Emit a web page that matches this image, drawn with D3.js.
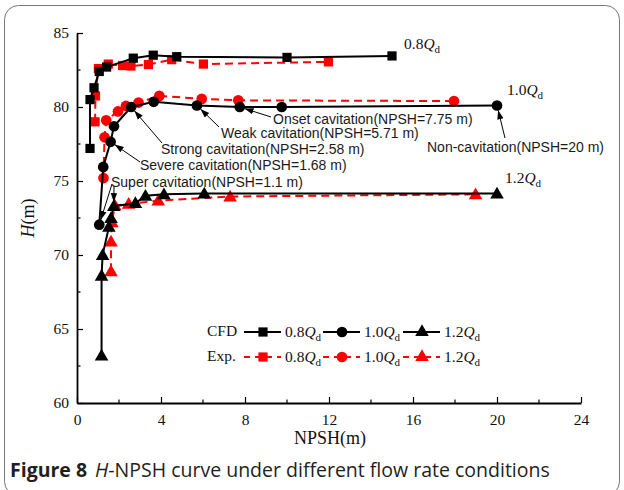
<!DOCTYPE html>
<html lang="en">
<head>
<meta charset="UTF-8">
<title>H-NPSH curve</title>
<script src="https://d3js.org/d3.v7.min.js"></script>
<style>
  body { margin: 0; background: #fff; }
  svg { display: block; }
  .serif { font-family: 'Liberation Serif', 'Times New Roman', serif; }
  .sans { font-family: 'Liberation Sans', Arial, sans-serif; }
</style>
</head>
<body>
<div id="chart"></div>
<script>
// NPSH (m) / head H (m)
const cfd08 = [[0.62,77.2],[0.62,80.5],[0.81,81.3],[1.06,82.4],[1.41,82.7],[2.68,83.3],[3.63,83.5],[4.75,83.4],[10,83.35],[15,83.45]];
const exp08 = [[0.86,79.0],[0.88,80.75],[1.02,82.6],[1.49,82.9],[2.17,82.8],[2.57,82.77],[3.4,82.87],[4.51,83.2],[6.02,82.9],[11.97,83.05]];
const cfd10 = [[1.06,72.05],[1.25,75.95],[1.6,77.65],[1.76,78.7],[2.58,80.0],[3.65,80.35],[5.71,80.1],[7.75,80.0],[9.75,80.0],[20,80.1]];
const exp10 = [[1.26,75.2],[1.31,77.95],[1.39,79.1],[1.95,79.7],[2.33,80.07],[2.93,80.3],[3.92,80.75],[5.94,80.55],[7.68,80.45],[17.95,80.4]];
const cfd12 = [[1.17,63.2],[1.17,68.6],[1.22,70.0],[1.52,71.9],[1.62,72.5],[1.75,73.3],[2.78,73.5],[3.26,74.0],[4.14,74.1],[6.06,74.15],[20,74.15]];
const exp12 = [[1.62,68.9],[1.62,70.9],[1.66,72.2],[1.8,73.35],[2.46,73.45],[3.87,73.67],[7.29,73.95],[18.98,74.1]];

const xTicks = [0, 4, 8, 12, 16, 20, 24];
const yTicks = [60, 65, 70, 75, 80, 85];
const flowLabels = ["0.8", "1.0", "1.2"];

// cavitation stage annotations: text, NPSH and H of the marked point
const notes = [
  { text: "Onset cavitation(NPSH=7.75 m)", x: 7.75, h: 80.0 },
  { text: "Weak cavitation(NPSH=5.71 m)", x: 5.71, h: 80.1 },
  { text: "Strong cavitation(NPSH=2.58 m)", x: 2.58, h: 80.0 },
  { text: "Severe cavitation(NPSH=1.68 m)", x: 1.6, h: 77.65 },
  { text: "Super cavitation(NPSH=1.1 m)", x: 1.06, h: 72.05 },
  { text: "Non-cavitation(NPSH=20 m)", x: 20, h: 80.1 }
];
// where each annotation text sits (left x, middle y) and where its arrow starts
const noteLayout = [
  { tx: 273, ty: 120, ax: 271, ay: 117 },
  { tx: 221, ty: 134, ax: 219, ay: 127 },
  { tx: 161, ty: 150, ax: 162, ay: 143 },
  { tx: 140, ty: 166, ax: 140, ay: 162 },
  { tx: 111, ty: 183, ax: 112, ay: 184 },
  { tx: 427, ty: 148, ax: 505, ay: 138 }
];

const W = 624, H = 490;
const svg = d3.select("#chart").append("svg").attr("width", W).attr("height", H);

// outer figure frame
svg.append("rect").attr("x", 4.5).attr("y", 5.5).attr("width", 615).attr("height", 490)
  .attr("rx", 14).attr("fill", "none").attr("stroke", "#777").attr("stroke-width", 1);

const x = d3.scaleLinear().domain([0, 24]).range([77, 581]);
const y = d3.scaleLinear().domain([60, 85]).range([403, 33]);

svg.append("defs").append("marker")
  .attr("id", "arrow").attr("viewBox", "0 0 10 10").attr("refX", 10).attr("refY", 5)
  .attr("markerWidth", 9).attr("markerHeight", 9).attr("markerUnits", "userSpaceOnUse")
  .attr("orient", "auto")
  .append("path").attr("d", "M0,1.5L10,5L0,8.5Z").attr("fill", "#000");

// axes
const gx = svg.append("g").attr("transform", `translate(0,${y(60)})`)
  .call(d3.axisBottom(x).tickValues(xTicks).tickSizeInner(-6).tickSizeOuter(0).tickPadding(11));
const gy = svg.append("g").attr("transform", `translate(${x(0)},0)`)
  .call(d3.axisLeft(y).tickValues(yTicks).tickSizeInner(-6).tickSizeOuter(0).tickPadding(8));
[gx, gy].forEach(g => {
  g.select(".domain").attr("stroke", "#000").attr("stroke-width", 1.8);
  g.selectAll(".tick line").attr("stroke", "#000").attr("stroke-width", 1.2);
  g.selectAll(".tick text").attr("class", "serif").attr("font-size", 15.5).attr("fill", "#111");
});
gx.append("g").selectAll("line").data(d3.range(2, 24, 4)).join("line")
  .attr("x1", d => x(d)).attr("x2", d => x(d)).attr("y1", 0).attr("y2", -3.5)
  .attr("stroke", "#000").attr("stroke-width", 1.2);
gy.append("g").selectAll("line").data(d3.range(62.5, 85, 5)).join("line")
  .attr("y1", d => y(d)).attr("y2", d => y(d)).attr("x1", 0).attr("x2", 3.5)
  .attr("stroke", "#000").attr("stroke-width", 1.2);

svg.append("text").attr("class", "serif").attr("x", 330).attr("y", 444)
  .attr("text-anchor", "middle").attr("font-size", 18).attr("fill", "#111").text("NPSH(m)");
const yl = svg.append("text").attr("class", "serif").attr("font-size", 18).attr("fill", "#111")
  .attr("text-anchor", "middle").attr("transform", `translate(34,218) rotate(-90)`);
yl.append("tspan").attr("font-style", "italic").text("H");
yl.append("tspan").text("(m)");

// series
const symType = [d3.symbolSquare, d3.symbolCircle, d3.symbolTriangle];
const symSize = [85, 90, 80];
const series = [
  { data: cfd08, color: "#000", dash: null, k: 0 },
  { data: cfd10, color: "#000", dash: null, k: 1 },
  { data: cfd12, color: "#000", dash: null, k: 2 },
  { data: exp08, color: "#f00", dash: "8,5", k: 0 },
  { data: exp10, color: "#f00", dash: "8,5", k: 1 },
  { data: exp12, color: "#f00", dash: "8,5", k: 2 }
];
const line = d3.line().x(d => x(d[0])).y(d => y(d[1]));

// draw exp first so cfd lines sit on top where they meet
[3, 4, 5, 0, 1, 2].forEach(i => {
  const s = series[i];
  const g = svg.append("g");
  g.append("path").datum(s.data).attr("d", line).attr("fill", "none")
    .attr("stroke", s.color).attr("stroke-width", 2).attr("stroke-dasharray", s.dash);
  g.selectAll("path.pt").data(s.data).join("path").attr("class", "pt")
    .attr("d", d3.symbol().type(symType[s.k]).size(symSize[s.k]))
    .attr("transform", d => `translate(${x(d[0])},${y(d[1]) + (s.k === 2 ? 1 : 0)})`)
    .attr("fill", s.color);
});

// flow rate labels at the curve ends
const endLabels = [
  { lab: flowLabels[0], x: cfd08[cfd08.length - 1][0], h: cfd08[cfd08.length - 1][1], dx: 12, dy: -7 },
  { lab: flowLabels[1], x: cfd10[cfd10.length - 1][0], h: cfd10[cfd10.length - 1][1], dx: 10, dy: -11 },
  { lab: flowLabels[2], x: cfd12[cfd12.length - 1][0], h: cfd12[cfd12.length - 1][1], dx: 8, dy: -11 }
];
function qLabel(sel, lab) {
  sel.append("tspan").text(lab);
  sel.append("tspan").attr("font-style", "italic").text("Q");
  sel.append("tspan").attr("font-size", 11).attr("dy", 4).text("d");
}
endLabels.forEach(e => {
  const t = svg.append("text").attr("class", "serif").attr("font-size", 15.5).attr("fill", "#111")
    .attr("x", x(e.x) + e.dx).attr("y", y(e.h) + e.dy);
  qLabel(t, e.lab);
});

// annotations
notes.forEach((n, i) => {
  const L = noteLayout[i];
  svg.append("text").attr("class", "sans").attr("font-size", 14).attr("fill", "#1a1a1a")
    .attr("x", L.tx).attr("y", L.ty).attr("dominant-baseline", "middle").text(n.text);
  const px = x(n.x), py = y(n.h);
  const ang = Math.atan2(py - L.ay, px - L.ax);
  svg.append("line").attr("x1", L.ax).attr("y1", L.ay)
    .attr("x2", px - 5 * Math.cos(ang)).attr("y2", py - 5 * Math.sin(ang))
    .attr("stroke", "#000").attr("stroke-width", 1).attr("marker-end", "url(#arrow)");
});
// second arrow for super cavitation pointing to the 1.2Qd curve
{
  const p = cfd12[5];
  const sx = 114, sy = 186, px = x(p[0]), py = y(p[1]);
  const ang = Math.atan2(py - sy, px - sx);
  svg.append("line").attr("x1", sx).attr("y1", sy)
    .attr("x2", px - 4 * Math.cos(ang)).attr("y2", py - 4 * Math.sin(ang))
    .attr("stroke", "#000").attr("stroke-width", 1).attr("marker-end", "url(#arrow)");
}

// legend
const legRows = [
  { name: "CFD", color: "#000", dash: null, y: 332 },
  { name: "Exp.", color: "#f00", dash: "6,5", y: 357 }
];
const legCols = [244, 323, 403];
legRows.forEach(r => {
  svg.append("text").attr("class", "serif").attr("font-size", 15.5).attr("fill", "#111")
    .attr("x", 207).attr("y", r.y).attr("dominant-baseline", "middle").text(r.name);
  legCols.forEach((cx, k) => {
    svg.append("line").attr("x1", cx).attr("x2", cx + 37).attr("y1", r.y).attr("y2", r.y)
      .attr("stroke", r.color).attr("stroke-width", 2).attr("stroke-dasharray", r.dash);
    svg.append("path").attr("d", d3.symbol().type(symType[k]).size(symSize[k]))
      .attr("transform", `translate(${cx + 19},${r.y})`).attr("fill", r.color);
    const t = svg.append("text").attr("class", "serif").attr("font-size", 15.5).attr("fill", "#111")
      .attr("x", cx + 41).attr("y", r.y + 5);
    qLabel(t, flowLabels[k]);
  });
});

// caption
const cap = svg.append("text").attr("x", 10).attr("y", 477).attr("font-size", 19.5)
  .attr("font-family", "'Open Sans', 'Noto Sans', sans-serif").attr("fill", "#231f20");
cap.append("tspan").attr("font-weight", "bold").text("Figure 8");
cap.append("tspan").attr("dx", 8).attr("font-style", "italic").text("H");
cap.append("tspan").text("-NPSH curve under different flow rate conditions");
</script>
</body>
</html>
